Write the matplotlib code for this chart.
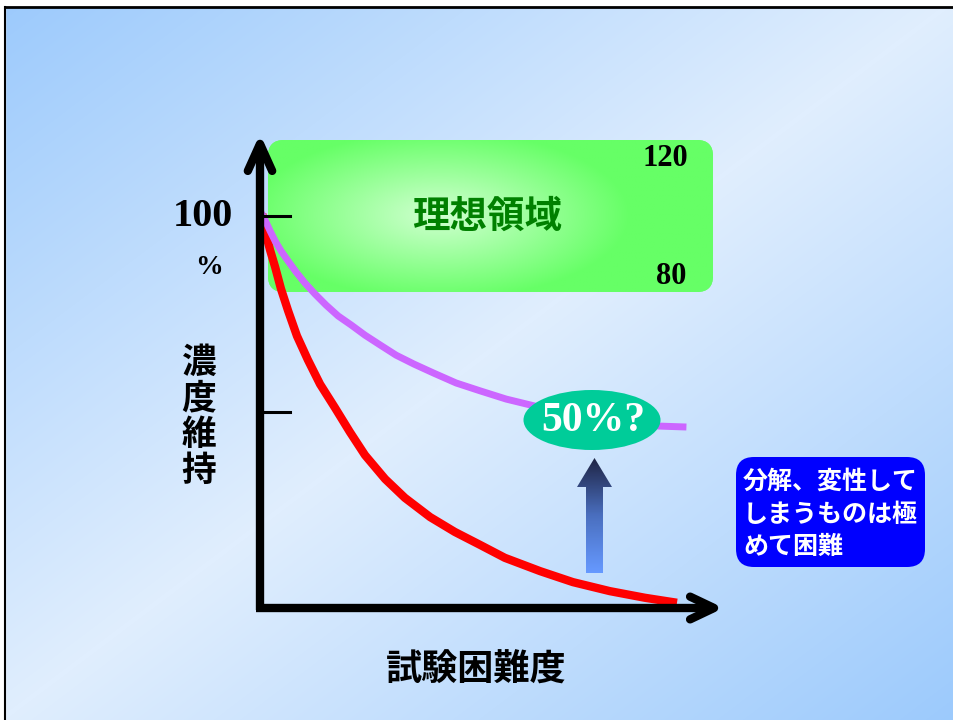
import numpy as np
import matplotlib
matplotlib.use('Agg')
import matplotlib.pyplot as plt
from matplotlib.patches import FancyBboxPatch, Ellipse, Polygon, Rectangle
from matplotlib.colors import LinearSegmentedColormap

plt.rcParams['font.family'] = ['Noto Sans CJK JP', 'DejaVu Sans']

# 試験困難度 (0-100) vs 濃度維持 (%)
purple_x = [0.7, 1.4, 2.4, 3.6, 5.0, 6.7, 8.6, 10.7, 13.1, 15.7, 18.6, 21.7, 25.0,
            28.6, 32.4, 36.7, 41.4, 46.7, 52.4, 58.6, 65.5, 73.1, 81.0, 89.5, 95.2, 100.7]
purple_y = [100, 98.5, 96.2, 93.6, 91.1, 88.5, 85.7, 82.9, 80.1, 77.3, 74.5, 72.2, 69.6,
            67.1, 64.5, 62.2, 59.9, 57.4, 55.4, 53.3, 51.5, 49.7, 48.2, 46.9, 46.4, 46.2]
red_x = [0.7, 1.4, 2.4, 3.6, 5.0, 6.7, 8.8, 11.4, 14.3, 17.9, 21.4, 25.0, 29.8, 34.5,
         40.5, 46.4, 52.4, 58.3, 66.7, 74.5, 83.3, 91.7, 98.3]
red_y = [99.5, 95.4, 91.3, 87.0, 81.4, 75.8, 69.4, 63.3, 57.1, 51.0, 44.9, 39.0, 32.9,
         28.1, 23.2, 19.4, 16.1, 12.8, 9.4, 6.6, 4.3, 2.6, 1.5]

y_ticks = [100, 50]
tick_label = '100'
unit_label = '%'
box_labels = ['120', '80']
ideal_label = '理想領域'
x_label = '試験困難度'
y_label = '濃度維持'
bubble_label = '50%?'
note_lines = ['分解、変性して', 'しまうものは極', 'めて困難']

W, H = 954, 720
SERIF = 'Liberation Serif'

fig = plt.figure(figsize=(9.54, 7.2), dpi=100)

# ---- background layer (pixel coords) ----
bg = fig.add_axes([0, 0, 1, 1], zorder=0)
bg.axis('off')
yy, xx = np.mgrid[0:H, 0:W]
s = np.abs(xx / W + yy / H - 1)
bg_cmap = LinearSegmentedColormap.from_list('bg', ['#e0eefe', '#9ccafc'])
bg.imshow(s, cmap=bg_cmap, vmin=0, vmax=1, extent=[0, W, H, 0], aspect='auto')
bg.add_patch(Rectangle((0, 0), W, 6, color='white', zorder=2))
bg.add_patch(Rectangle((0, 0), 5, H, color='white', zorder=2))
bg.plot([5, W], [7, 7], color='black', lw=2, zorder=3)
bg.plot([5.5, 5.5], [7, H], color='black', lw=1.5, zorder=3)

# green ideal band with soft highlight
gbox = FancyBboxPatch((268, 140), 445, 152, boxstyle='round,pad=0,rounding_size=16',
                      fc='#66ff66', ec='none', zorder=4)
bg.add_patch(gbox)
gx, gy = np.meshgrid(np.linspace(268, 713, 300), np.linspace(140, 292, 120))
t = np.clip(np.hypot((gx - 440) / 190, (gy - 215) / 85), 0, 1)[..., None]
light = np.array([0.82, 1.0, 0.82])
edge = np.array([0.40, 1.0, 0.40])
im = bg.imshow(light * (1 - t) + edge * t, extent=[268, 713, 292, 140], aspect='auto', zorder=5)
im.set_clip_path(gbox)
bg.text(487, 216, ideal_label, color='#008000', fontsize=27, fontweight='bold',
        ha='center', va='center', zorder=6)
bg.text(665, 158, box_labels[0], family=SERIF, fontsize=22, fontweight='bold',
        ha='center', va='center', zorder=6)
bg.text(671, 277, box_labels[1], family=SERIF, fontsize=22, fontweight='bold',
        ha='center', va='center', zorder=6)
bg.set_xlim(0, W)
bg.set_ylim(H, 0)

# ---- data layer ----
dax = fig.add_axes([260 / W, (H - 608) / H, 420 / W, 392 / H], zorder=1)
dax.set_xlim(0, 100)
dax.set_ylim(0, 100)
dax.axis('off')
dax.patch.set_alpha(0)

dax.plot(red_x, red_y, color='#ff0000', lw=6, clip_on=False, solid_joinstyle='round')
dax.plot(purple_x, purple_y, color='#cc66ff', lw=5, clip_on=False, solid_joinstyle='round')

# axes with open arrow heads
ax_kw = dict(color='black', lw=6, clip_on=False, solid_capstyle='round', solid_joinstyle='round')
dax.plot([0, 0], [-0.5, 118.4], color='black', lw=6, clip_on=False, solid_capstyle='butt')
dax.plot([-2.9, 0, 2.9], [111.5, 118.4, 111.5], **ax_kw)
dax.plot([-1, 108.1], [0, 0], color='black', lw=6, clip_on=False, solid_capstyle='butt')
dax.plot([102.4, 108.1, 102.4], [2.9, 0, -2.9], **ax_kw)
for v in y_ticks:
    dax.plot([0, 7.1], [v, v], color='black', lw=2.2, clip_on=False)
dax.text(-13.5, y_ticks[0], tick_label, family=SERIF, fontsize=29, fontweight='bold',
         ha='center', va='center')

# ---- overlay layer (pixel coords) ----
ov = fig.add_axes([0, 0, 1, 1], zorder=2)
ov.axis('off')
ov.patch.set_alpha(0)

ov.text(209, 267, unit_label, family=SERIF, fontsize=20, fontweight='bold',
        ha='center', va='center')
for ch, yc in zip(y_label, [362, 398, 434, 470]):
    ov.text(199, yc, ch, fontsize=25, fontweight='bold', ha='center', va='center')
ov.text(476, 670, x_label, fontsize=26, fontweight='bold', ha='center', va='center')

ov.add_patch(Ellipse((592, 420), 137, 60, fc='#00cc99', ec='none', zorder=3))
ov.text(593, 421, bubble_label, family=SERIF, color='white', fontsize=30,
        fontweight='bold', ha='center', va='center', zorder=4)

# gradient up-arrow
arrow = Polygon([(586, 573), (586, 487), (577, 487), (594.5, 458), (612, 487),
                 (603, 487), (603, 573)], closed=True, fc='none', ec='none')
ov.add_patch(arrow)
ag = np.linspace(0, 1, 100)[:, None] * np.ones((1, 10))
arrow_cmap = LinearSegmentedColormap.from_list('arr', ['#1f2546', '#4a6fbf', '#6699ff'])
aim = ov.imshow(ag, cmap=arrow_cmap, extent=[577, 612, 573, 458], aspect='auto', zorder=3)
aim.set_clip_path(arrow)

# note box
ov.add_patch(FancyBboxPatch((736, 457), 189, 110, boxstyle='round,pad=0,rounding_size=18',
                            fc='#0000ff', ec='none', zorder=3))
for line, yc in zip(note_lines, [482, 515, 547]):
    ov.text(743, yc, line, color='white', fontsize=18, fontweight='bold',
            ha='left', va='center', zorder=4)

ov.set_xlim(0, W)
ov.set_ylim(H, 0)

fig.savefig('out.png', dpi=100)
